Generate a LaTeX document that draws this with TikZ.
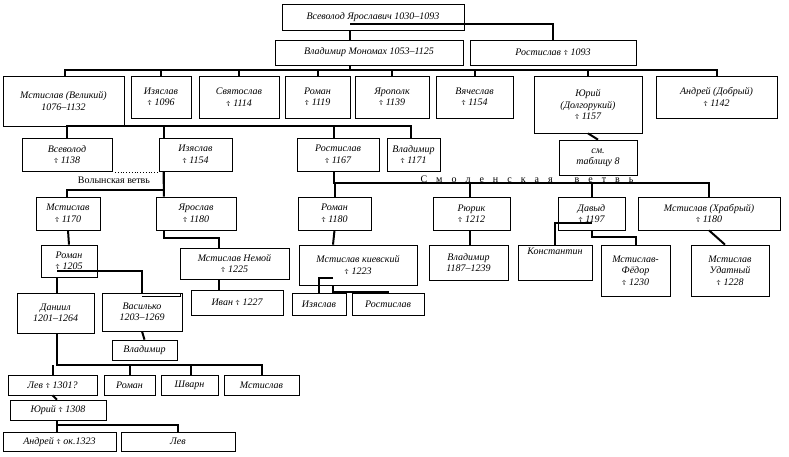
\documentclass[tikz,border=0pt]{standalone}
\usepackage{fontspec}
\setmainfont{Liberation Serif}
\newfontfamily\crossf{DejaVu Sans}
\newcommand{\kr}{{\crossf\scriptsize ☦}}
\begin{document}
\begin{tikzpicture}[x=1pt,y=-1pt,
 b/.style={draw,line width=0.7pt,inner sep=0pt,align=center,font=\itshape\fontsize{10}{11.5}\selectfont},
 l/.style={line width=2pt}]
\newcommand{\bx}[6]{\node[b,minimum width={#4-#2},minimum height={#5-#3}] (#1) at ({(#2+#4)/2},{(#3+#5)/2}) {#6};}
\useasboundingbox (0,0) rectangle (789,456);
\fill[white] (0,0) rectangle (789,456);
\bx{vs}{282}{4}{464}{30}{Всеволод Ярославич 1030--1093}
\bx{mon}{275}{40}{463}{65}{Владимир Мономах 1053--1125}
\bx{r93}{470}{40}{636}{65}{Ростислав \kr{} 1093}
\bx{mvel}{3}{76}{124}{126}{Мстислав (Великий)\\1076--1132}
\bx{iz1}{131}{76}{191}{118}{Изяслав\\\kr{} 1096}
\bx{sv}{199}{76}{279}{118}{Святослав\\\kr{} 1114}
\bx{ro1}{285}{76}{350}{118}{Роман\\\kr{} 1119}
\bx{yp}{355}{76}{429}{118}{Ярополк\\\kr{} 1139}
\bx{vy}{436}{76}{513}{118}{Вячеслав\\\kr{} 1154}
\bx{yu}{534}{76}{642}{133}{Юрий\\(Долгорукий)\\\kr{} 1157}
\bx{an}{656}{76}{777}{118}{Андрей (Добрый)\\\kr{} 1142}
\bx{vsv}{22}{138}{112}{171}{Всеволод\\\kr{} 1138}
\bx{iz2}{159}{138}{232}{171}{Изяслав\\\kr{} 1154}
\bx{ro2}{297}{138}{379}{171}{Ростислав\\\kr{} 1167}
\bx{vl2}{387}{138}{440}{171}{Владимир\\\kr{} 1171}
\bx{tab}{559}{140}{637}{175}{см.\\таблицу 8}
\bx{ms3}{36}{197}{100}{230}{Мстислав\\\kr{} 1170}
\bx{ya3}{156}{197}{236}{230}{Ярослав\\\kr{} 1180}
\bx{rm4}{41}{245}{97}{277}{Роман\\\kr{} 1205}
\bx{nem}{180}{248}{289}{279}{Мстислав Немой\\\kr{} 1225}
\bx{iv}{191}{290}{283}{315}{Иван \kr{} 1227}
\bx{da}{17}{293}{94}{333}{Даниил\\1201--1264}
\bx{va}{102}{293}{182}{331}{Василько\\1203--1269}
\bx{vl6}{112}{340}{177}{360}{Владимир}
\bx{lev}{8}{375}{97}{395}{Лев \kr{} 1301?}
\bx{rm7}{104}{375}{155}{395}{Роман}
\bx{sh}{161}{375}{218}{395}{Шварн}
\bx{ms7}{224}{375}{299}{395}{Мстислав}
\bx{yu8}{10}{400}{106}{420}{Юрий \kr{} 1308}
\bx{and9}{3}{432}{116}{451}{Андрей \kr{} ок.1323}
\bx{lev9}{121}{432}{235}{451}{Лев}
\bx{rm3}{298}{197}{371}{230}{Роман\\\kr{} 1180}
\bx{ry}{433}{197}{510}{230}{Рюрик\\\kr{} 1212}
\bx{dv}{558}{197}{625}{230}{Давыд\\\kr{} 1197}
\bx{hr}{638}{197}{780}{230}{Мстислав (Храбрый)\\\kr{} 1180}
\bx{kv}{299}{245}{417}{285}{Мстислав киевский\\\kr{} 1223}
\bx{vr}{429}{245}{508}{280}{Владимир\\1187--1239}
\bx{ko}{518}{245}{592}{280}{Константин\\[1.2em]}
\bx{mf}{601}{245}{670}{296}{Мстислав-\\Фёдор\\\kr{} 1230}
\bx{ud}{691}{245}{769}{296}{Мстислав\\Удатный\\\kr{} 1228}
\bx{izk}{292}{293}{346}{315}{Изяслав}
\bx{rsk}{352}{293}{424}{315}{Ростислав}
% connectors
\draw[l] ([xshift=-23pt]vs.south) -- ([xshift=-19pt]mon.north);
\draw[l] ([xshift=-23pt,yshift=6pt]vs.south) -| (r93.north);
\draw[l] ([xshift=-19pt]mon.south) -- ++(0,5);
\draw[l] ([xshift=1.5pt]mvel.north) -- ++(0,-6) -| (an.north);
\foreach \n in {iz1,sv,ro1,yp,vy,yu} \draw[l] (\n.north) -- ++(0,-6);
\draw[l] (yu.south) -- (tab.north);
\draw[l] (vsv.north) -- ++(0,-12) -| ([xshift=-3pt]vl2.north);
\draw[l] ([xshift=-32pt]iz2.north) -- ++(0,-12);
\draw[l] ([xshift=-4pt]ro2.north) -- ++(0,-12);
\draw[line width=0.8pt,dotted] (115,172) -- (158,172);
\node[font=\fontsize{10}{11}\selectfont,anchor=base] (volt) at (114,183) {Волынская ветвь};
\node[font=\fontsize{10}{11}\selectfont,anchor=base] (smt) at (527,182) {С\hspace{0.9em}м\hspace{0.9em}о\hspace{0.9em}л\hspace{0.9em}е\hspace{0.9em}н\hspace{0.9em}с\hspace{0.9em}к\hspace{0.9em}а\hspace{0.9em}я\hspace{2.2em}в\hspace{0.9em}е\hspace{0.9em}т\hspace{0.9em}в\hspace{0.9em}ь};
\draw[l] ([xshift=-32pt]iz2.south) -- ++(0,19) -| ([xshift=-1pt]ms3.north);
\draw[l] ([xshift=-32pt]iz2.south) -- ([xshift=-32pt]ya3.north);
\draw[l] ([xshift=-32pt]ya3.south) -- ++(0,8) -| ([xshift=-15.5pt]nem.north);
\draw[l] ([xshift=-15.5pt]nem.south) -- ([xshift=-18pt]iv.north);
\draw[l] (ms3.south) -- (rm4.north);
\draw[l] ([xshift=-12pt]rm4.south) -- ++(0,6) -| ([xshift=1.5pt]da.north);
\draw[l] ([xshift=-12pt,yshift=6pt]rm4.south) -| (va.north);
\draw[line width=0.7pt] ([xshift=0pt,yshift=-4pt]va.north) -| ([xshift=38pt]va.north);
\draw[l] (va.south) -- (vl6.north);
\draw[l] ([xshift=1.5pt]da.south) -- ++(0,32) -| (ms7.north);
\draw[l] (lev.north) -- ++(0,-10);
\draw[l] (rm7.north) -- ++(0,-10);
\draw[l] ([xshift=1.5pt]sh.north) -- ++(0,-10);
\draw[l] (lev.south) -- ([xshift=-1pt]yu8.north);
\draw[l] ([xshift=-1pt]yu8.south) -- ++(0,5) -| (lev9.north);
\draw[l] ([xshift=-1pt]yu8.south) -- ([xshift=-2.5pt]and9.north);
\draw[l] ([xshift=-4pt]ro2.south) -- ++(0,12) -| (hr.north);
\draw[l] (rm3.north) -- ++(0,-14);
\draw[l] ([xshift=-1.5pt]ry.north) -- ++(0,-14);
\draw[l] ([xshift=0.5pt]dv.north) -- ++(0,-14);
\draw[l] (rm3.south) -- ([xshift=-25pt]kv.north);
\draw[l] ([xshift=-25pt]kv.south) -- ++(0,7) -| (rsk.north);
\draw[l] ([xshift=-25pt,yshift=7pt]kv.south) -| (izk.north);
\draw[l] ([xshift=-1.5pt]ry.south) -- ([xshift=1.5pt]vr.north);
\draw[l] ([xshift=0.5pt]dv.south) -- ++(0,7) -| (mf.north);
\draw[l] ([xshift=0.5pt,yshift=7pt]dv.south) -| (ko.north);
\draw[l] (hr.south) -- ([xshift=-5pt]ud.north);
\end{tikzpicture}
\end{document}
